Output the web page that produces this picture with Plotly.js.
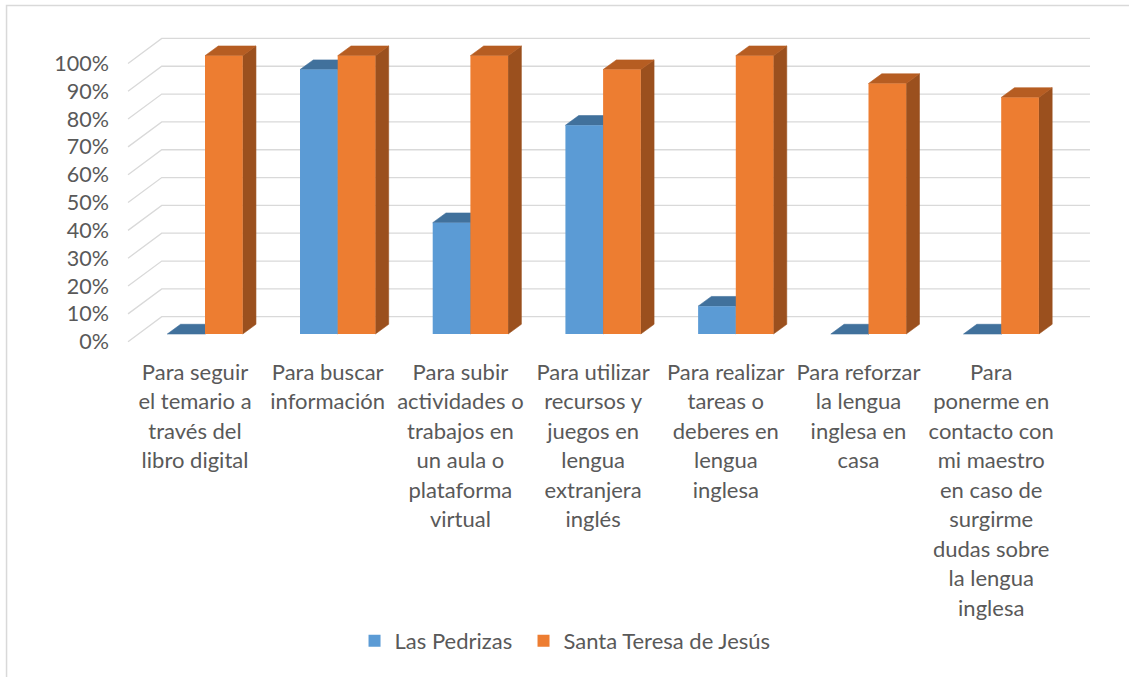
<!DOCTYPE html>
<html>
<head>
<meta charset="utf-8">
<script src="https://cdn.plot.ly/plotly-3.0.1.min.js"></script>
<style>html,body{margin:0;padding:0;background:#fff;}#chart{width:1129px;height:677px;}</style>
</head>
<body>
<div id="chart"></div>
<script>
// ---- data ----
const categories = [
  ["Para seguir", "el temario a", "través del", "libro digital"],
  ["Para buscar", "información"],
  ["Para subir", "actividades o", "trabajos en", "un aula o", "plataforma", "virtual"],
  ["Para utilizar", "recursos y", "juegos en", "lengua", "extranjera", "inglés"],
  ["Para realizar", "tareas o", "deberes en", "lengua", "inglesa"],
  ["Para reforzar", "la lengua", "inglesa en", "casa"],
  ["Para", "ponerme en", "contacto con", "mi maestro", "en caso de", "surgirme", "dudas sobre", "la lengua", "inglesa"]
];
const seriesNames = ["Las Pedrizas", "Santa Teresa de Jesús"];
const lasPedrizas = [0, 0.95, 0.40, 0.75, 0.10, 0, 0];
const santaTeresa = [1.00, 1.00, 1.00, 0.95, 1.00, 0.90, 0.85];
const yTickVals = [0, 0.1, 0.2, 0.3, 0.4, 0.5, 0.6, 0.7, 0.8, 0.9, 1.0];

// ---- styling / geometry ----
const FONT = "Lato, 'Open Sans', sans-serif";
const TXT = "#595959";
const GRID = "#D9D9D9";
const colors = {
  blue:   {front: "#5B9BD5", top: "#41719C", side: "#3E6A94"},
  orange: {front: "#ED7D31", top: "#B65D22", side: "#9B501E"}
};
const BW = 0.284;      // bar width (category units)
const DX = 0.10;       // depth offset x (category units)
const DY = 0.0349;     // depth offset y (value units)
const GDY = 0.0898;    // gridline wall depth in value units
const GX0 = -0.580, GX1 = -0.326, GX2 = 6.669; // gridline x stops (category units)

const xIdx = categories.map((_, i) => i);

function facePolys(vals, offset, kind) {
  const xs = [], ys = [];
  vals.forEach((v, i) => {
    const x0 = i + offset, x1 = x0 + BW;
    if (kind === "top") {
      xs.push(x0, x1, x1 + DX, x0 + DX, x0, null);
      ys.push(v, v, v + DY, v + DY, v, null);
    } else {
      xs.push(x1, x1, x1 + DX, x1 + DX, x1, null);
      ys.push(0, v, v + DY, DY, 0, null);
    }
  });
  return {xs, ys};
}

function faceTrace(vals, offset, kind, color) {
  const p = facePolys(vals, offset, kind);
  return {
    type: "scatter", mode: "lines", x: p.xs, y: p.ys,
    xaxis: "x", yaxis: "y2", fill: "toself", fillcolor: color,
    line: {width: 0.6, color: color}, hoverinfo: "skip", showlegend: false
  };
}

const traces = [
  faceTrace(lasPedrizas, -BW, "side", colors.blue.side),
  faceTrace(lasPedrizas, -BW, "top", colors.blue.top),
  faceTrace(santaTeresa, 0, "side", colors.orange.side),
  faceTrace(santaTeresa, 0, "top", colors.orange.top),
  {
    type: "bar", name: seriesNames[0], x: xIdx, y: lasPedrizas,
    width: BW, offset: -BW, xaxis: "x", yaxis: "y3", legend: "legend",
    marker: {color: colors.blue.front, line: {width: 0}}
  },
  {
    type: "bar", name: seriesNames[1], x: xIdx, y: santaTeresa,
    width: BW, offset: 0, xaxis: "x", yaxis: "y3", legend: "legend2",
    marker: {color: colors.orange.front, line: {width: 0}}
  }
];

// gridlines: diagonal side wall + back wall, one per tick value
const shapes = yTickVals.map(v => ({
  type: "path", xref: "x", yref: "y", layer: "below",
  path: `M ${GX0},${v} L ${GX1},${v + GDY} L ${GX2},${v + GDY}`,
  line: {color: GRID, width: 1.3}
}));
// chart-area border (left and top)
shapes.push({
  type: "path", xref: "paper", yref: "paper", layer: "above",
  path: "M -0.1045,-1.0952 L -0.1045,1.0778 L 1.0404,1.0778",
  line: {color: "#D9D9D9", width: 1.5}
});

const tickText = categories.map(lines =>
  lines.map(s => `<span style="font-size:22px">${s}</span>`).join("<br>"));

const labelRange = [-0.011858, 1.120010];
const barRange = [-0.039526, 1.092344];

const legendBase = {
  orientation: "h", xanchor: "left", y: -0.9397, yanchor: "middle",
  font: {family: FONT, color: TXT, size: 22}, bgcolor: "rgba(0,0,0,0)",
  itemclick: false, itemdoubleclick: false
};

const layout = {
  width: 1129, height: 677,
  margin: {l: 110, r: 29, t: 30, b: 332},
  paper_bgcolor: "#fff", plot_bgcolor: "rgba(0,0,0,0)",
  font: {family: FONT, color: TXT, size: 22},
  barmode: "overlay",
  showlegend: true,
  xaxis: {
    type: "linear", range: [-0.7159, 6.7445], fixedrange: true,
    tickmode: "array", tickvals: xIdx, ticktext: tickText, tickangle: 0,
    ticklabelshift: -10, ticklabelstandoff: 11,
    showgrid: false, zeroline: false, showline: false, ticks: "",
    tickfont: {family: FONT, color: TXT, size: 22.7}
  },
  yaxis: {
    range: labelRange, fixedrange: true,
    tickmode: "array", tickvals: yTickVals, tickformat: ".0%",
    showgrid: false, zeroline: false, showline: false, ticks: "",
    tickfont: {family: FONT, color: TXT, size: 21.5}
  },
  yaxis2: {overlaying: "y", range: barRange, visible: false, fixedrange: true},
  yaxis3: {overlaying: "y", range: barRange, visible: false, fixedrange: true},
  legend: Object.assign({}, legendBase, {x: 0.247}),
  legend2: Object.assign({}, legendBase, {x: 0.4177}),
  shapes: shapes
};

Plotly.newPlot("chart", traces, layout, {displayModeBar: false, staticPlot: true});
</script>
</body>
</html>
